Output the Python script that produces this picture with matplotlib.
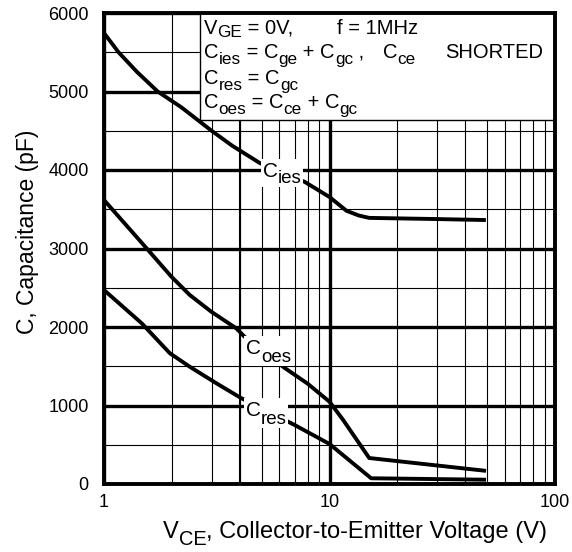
import matplotlib
matplotlib.use("Agg")
import matplotlib.pyplot as plt
import matplotlib.patches as patches
from matplotlib.ticker import FixedLocator, NullFormatter

plt.rcParams['font.family'] = ['Liberation Sans', 'DejaVu Sans']

W, H = 572, 552

# curvas (V, pF)
vce_ies = [1, 1.16, 1.4, 1.73, 2.2, 3.0, 3.7, 4.9, 7.75, 10, 11.9, 13.5, 15, 30, 48.4]
c_ies = [5745, 5500, 5250, 5000, 4800, 4500, 4310, 4090, 3850, 3656, 3480, 3420, 3390, 3375, 3363]

vce_oes = [1, 1.545, 1.99, 2.4, 2.99, 3.86, 4.2, 6.33, 8.0, 10, 11.5, 15, 48.5]
c_oes = [3618, 3002, 2641, 2408, 2195, 1983, 1876, 1478, 1278, 1048, 815, 331, 170]

vce_res = [1, 1.47, 1.96, 2.4, 3.15, 4.07, 7.0, 10, 15.3, 48.5]
c_res = [2471, 2047, 1665, 1494, 1283, 1092, 752, 510, 73, 55]

y_major = [0, 1000, 2000, 3000, 4000, 5000, 6000]
y_minor = [500, 1500, 2500, 3500, 4500, 5500]
x_major = [1, 10, 100]
x_minor = [2, 3, 4, 5, 6, 7, 8, 9, 20, 30, 40, 50, 60, 70, 80, 90]
x_labels = ['1', '10', '100']


fig = plt.figure(figsize=(W / 100, H / 100), dpi=100)
fig.patch.set_facecolor('white')
ax = fig.add_axes([104 / W, 1 - 484 / H, 451 / W, 471 / H])
renderer = fig.canvas.get_renderer()


def ancho(s, fs):
    """Ancho en pixeles de un texto, contando espacios."""
    t1 = fig.text(0, 0, '|' + s + '|', fontsize=fs)
    t2 = fig.text(0, 0, '||', fontsize=fs)
    w = t1.get_window_extent(renderer).width - t2.get_window_extent(renderer).width
    t1.remove()
    t2.remove()
    return w


def texto_sub(x, y, partes, fs, sub=0.85, baja=6, fondo=False, z=7):
    """Escribe piezas (texto, es_subindice) desde (x, y) en pixeles, y = linea base."""
    x0 = x
    for s, es_sub in partes:
        f = fs * sub if es_sub else fs
        yy = y + (baja if es_sub else 0)
        fig.text(x / W, 1 - yy / H, s, fontsize=f, ha='left', va='baseline', zorder=z)
        x += ancho(s, f)
    if fondo:
        alto = fs * 100 / 72
        fig.patches.append(patches.Rectangle(
            ((x0 - 2) / W, 1 - (y + baja + 4) / H), (x - x0 + 3) / W, (alto * 0.75 + baja + 6) / H,
            transform=fig.transFigure, facecolor='white', edgecolor='none', zorder=z - 1))
    return x


ax.set_xscale('log')
ax.set_xlim(1, 100)
ax.set_ylim(0, 6000)

ax.xaxis.set_major_locator(FixedLocator(x_major))
ax.xaxis.set_minor_locator(FixedLocator(x_minor))
ax.xaxis.set_minor_formatter(NullFormatter())
ax.set_xticklabels(x_labels)
ax.yaxis.set_major_locator(FixedLocator(y_major))
ax.yaxis.set_minor_locator(FixedLocator(y_minor))

ax.grid(which='major', color='black', linewidth=2.4)
ax.grid(which='minor', color='black', linewidth=0.8)
ax.axvline(4, color='black', linewidth=1.5, zorder=1.5)

ax.tick_params(which='both', length=0)
ax.tick_params(axis='x', pad=7, labelsize=13)
ax.tick_params(axis='y', pad=11, labelsize=13)

for s in ax.spines.values():
    s.set_linewidth(2.8)
    s.set_zorder(6)

# curvas
for xs, ys in [(vce_ies, c_ies), (vce_oes, c_oes), (vce_res, c_res)]:
    ax.plot(xs, ys, color='black', linewidth=2.8, solid_joinstyle='round', zorder=2)

# recuadro de condiciones
caja = patches.Rectangle(((200 - 104) / 451, (484 - 120) / 471), 1, 1,
                         transform=ax.transAxes, facecolor='white',
                         edgecolor='black', linewidth=1, zorder=3)
ax.add_patch(caja)

fs_box = 14.5
texto_sub(204, 34, [('V', False), ('GE', True), (' = 0V,', False)], fs_box, baja=3)
texto_sub(337, 34, [('f = 1MHz', False)], fs_box)
texto_sub(204, 58, [('C', False), ('ies', True), (' = C', False), ('ge', True),
                    (' + C', False), ('gc', True), (' ,', False)], fs_box)
texto_sub(383, 58, [('C', False), ('ce', True)], fs_box)
texto_sub(445, 58, [('SHORTED', False)], fs_box)
texto_sub(204, 84, [('C', False), ('res', True), (' = C', False), ('gc', True)], fs_box)
texto_sub(204, 108, [('C', False), ('oes', True), (' = C', False), ('ce', True),
                     (' + C', False), ('gc', True)], fs_box)

# etiquetas de curvas con fondo blanco
texto_sub(263, 177, [('C', False), ('ies', True)], 15, sub=0.9, baja=6, fondo=True)
texto_sub(246, 354, [('C', False), ('oes', True)], 15, sub=0.9, baja=8, fondo=True)
texto_sub(246, 416, [('C', False), ('res', True)], 15, sub=0.9, baja=8, fondo=True)

# ejes
texto_sub(163, 538, [('V', False), ('CE', True), (', Collector-to-Emitter Voltage (V)', False)],
          17, sub=0.85, baja=7)
fig.text(28 / W, 1 - 232 / H, 'C, Capacitance (pF)', fontsize=16.5, rotation=90,
         ha='center', va='center')

fig.savefig('out.png', dpi=100, facecolor='white')
plt.close(fig)
